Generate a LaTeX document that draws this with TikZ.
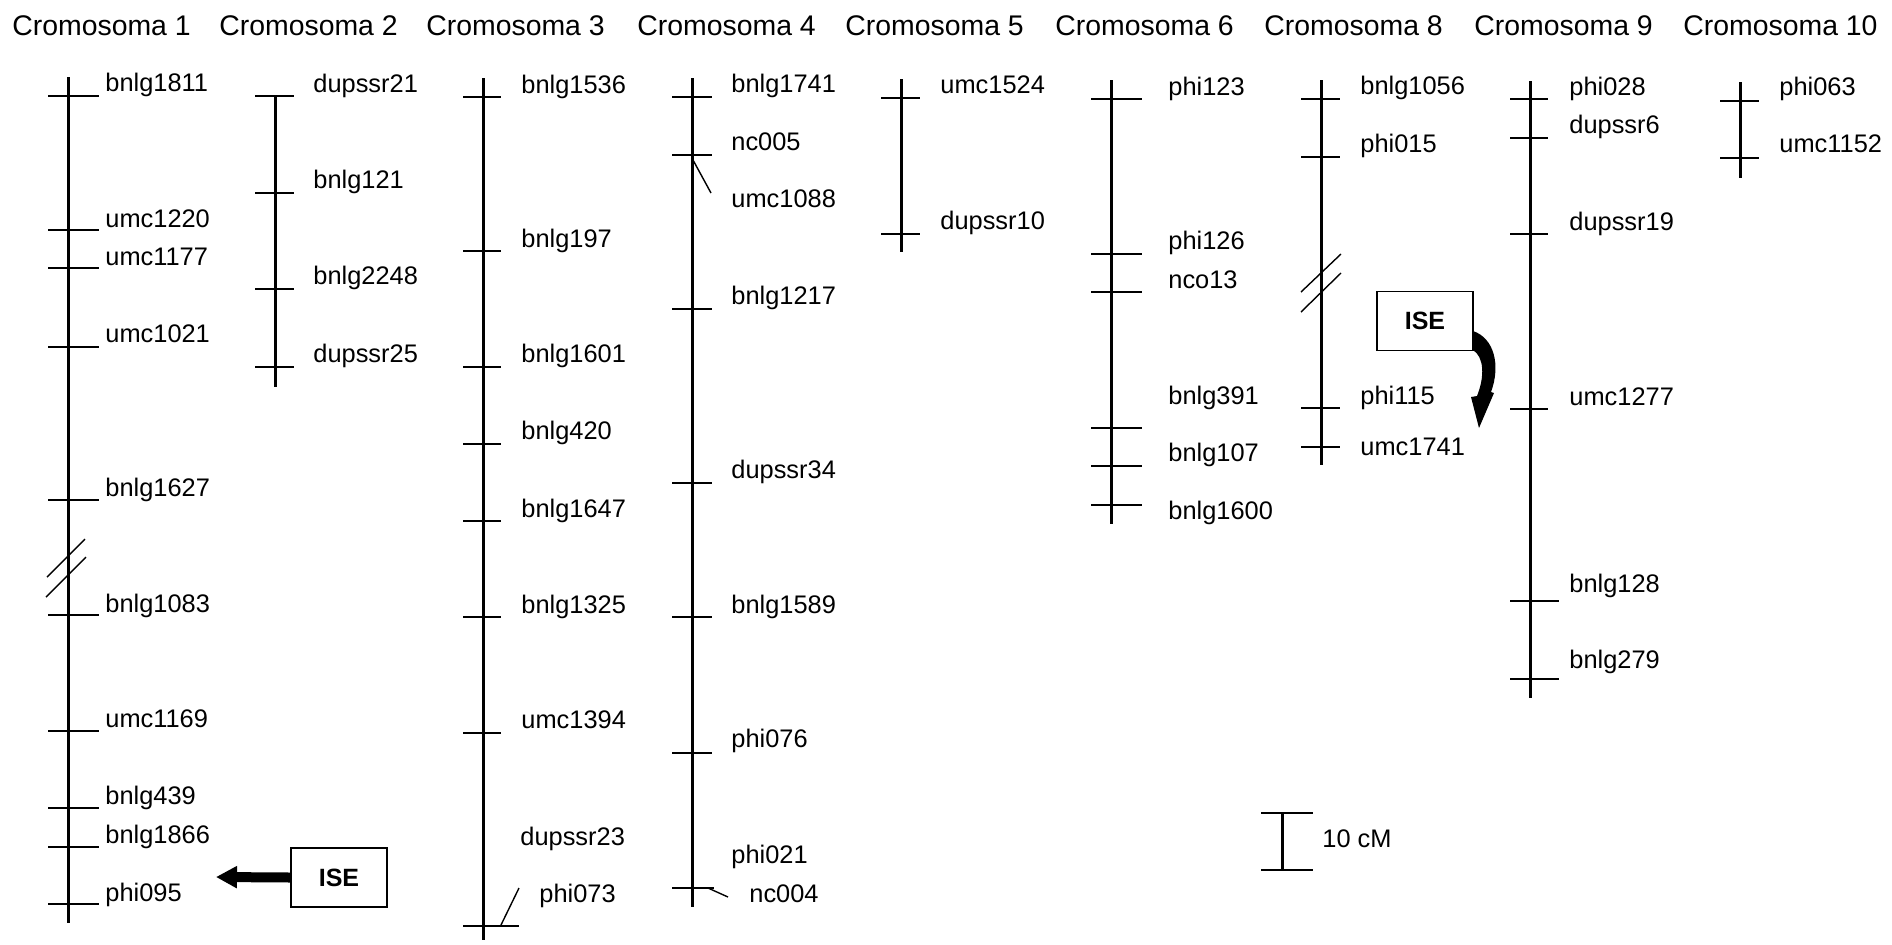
\documentclass[tikz,border=0pt]{standalone}
\usepackage{fontspec}
\setmainfont{Liberation Sans}
\usetikzlibrary{arrows.meta}

% one locus: tick on the chromosome and its name
% #1 node name, #2 chromosome x, #3 tick y, #4 tick reach to the right,
% #5 label x, #6 label baseline y, #7 marker name
\newcommand{\mapLocus}[7]{%
  \draw[tick] (#2-20,#3) -- (#2+#4,#3);
  \node[loc] (#1) at (#5,#6) {#7};}

\begin{document}
\begin{tikzpicture}[x=0.5pt,y=-0.5pt,
  chrom/.style={line width=1.5pt},
  tick/.style={line width=0.9pt},
  brk/.style={line width=0.7pt},
  lead/.style={line width=0.7pt},
  loc/.style={anchor=base west, inner sep=0pt, font=\fontsize{12.7}{15}\selectfont},
  ttl/.style={anchor=base west, inner sep=0pt, font=\fontsize{14.2}{17}\selectfont},
  isebox/.style={draw, line width=0.8pt, minimum width=48pt, minimum height=29.5pt,
    inner sep=0pt, font=\fontsize{12.5}{15}\selectfont\bfseries}]

\fill[white] (0,0) rectangle (1892,944);
\useasboundingbox (0,0) rectangle (1892,944);

% chromosome titles
\node[ttl] (t1) at (12,35) {Cromosoma 1};
\node[ttl] (t2) at (219,35) {Cromosoma 2};
\node[ttl] (t3) at (426,35) {Cromosoma 3};
\node[ttl] (t4) at (637,35) {Cromosoma 4};
\node[ttl] (t5) at (845,35) {Cromosoma 5};
\node[ttl] (t6) at (1055,35) {Cromosoma 6};
\node[ttl] (t8) at (1264,35) {Cromosoma 8};
\node[ttl] (t9) at (1474,35) {Cromosoma 9};
\node[ttl] (t10) at (1683,35) {Cromosoma 10};

% ---------- chromosome 1
\coordinate (c1a) at (68,77); \coordinate (c1b) at (68,923);
\draw[chrom] (c1a) -- (c1b);
\mapLocus{bnlg1811}{68}{96}{31}{105}{91}{bnlg1811}
\mapLocus{umc1220}{68}{230}{31}{105}{227}{umc1220}
\mapLocus{umc1177}{68}{268}{31}{105}{265}{umc1177}
\mapLocus{umc1021}{68}{347}{31}{105}{342}{umc1021}
\mapLocus{bnlg1627}{68}{500}{31}{105}{496}{bnlg1627}
\mapLocus{bnlg1083}{68}{615}{31}{105}{612}{bnlg1083}
\mapLocus{umc1169}{68}{731}{31}{105}{727}{umc1169}
\mapLocus{bnlg439}{68}{808}{31}{105}{804}{bnlg439}
\mapLocus{bnlg1866}{68}{847}{31}{105}{843}{bnlg1866}
\mapLocus{phi095}{68}{904}{31}{105}{901}{phi095}
\draw[brk] (47,577) -- (85,539);
\draw[brk] (46,597) -- (86,557);
\node[isebox] (ise1) at (339,877.5) {ISE};
\coordinate (ise1tip) at (216,877);
\draw[line width=5pt, -{Triangle[length=10.5pt,width=10.5pt]}] (ise1.west) -- (ise1tip);

% ---------- chromosome 2
\coordinate (c2a) at (275,96); \coordinate (c2b) at (275,387);
\draw[chrom] (c2a) -- (c2b);
\mapLocus{dupssr21}{275}{96}{19}{313}{92}{dupssr21}
\mapLocus{bnlg121}{275}{193}{19}{313}{188}{bnlg121}
\mapLocus{bnlg2248}{275}{289}{19}{313}{284}{bnlg2248}
\mapLocus{dupssr25}{275}{367}{19}{313}{362}{dupssr25}

% ---------- chromosome 3
\coordinate (c3a) at (483,78); \coordinate (c3b) at (483,940);
\draw[chrom] (c3a) -- (c3b);
\mapLocus{bnlg1536}{483}{97}{18}{521}{93}{bnlg1536}
\mapLocus{bnlg197}{483}{251}{18}{521}{247}{bnlg197}
\mapLocus{bnlg1601}{483}{367}{18}{521}{362}{bnlg1601}
\mapLocus{bnlg420}{483}{444}{18}{521}{439}{bnlg420}
\mapLocus{bnlg1647}{483}{521}{18}{521}{517}{bnlg1647}
\mapLocus{bnlg1325}{483}{617}{18}{521}{613}{bnlg1325}
\mapLocus{umc1394}{483}{733}{18}{521}{728}{umc1394}
\node[loc] (dupssr23) at (520,845) {dupssr23};
\mapLocus{phi073}{483}{926}{36}{539}{902}{phi073}
\coordinate (phi073a) at (501,925); \coordinate (phi073b) at (519,888);
\draw[lead] (phi073a) -- (phi073b);

% ---------- chromosome 4
\coordinate (c4a) at (692,78); \coordinate (c4b) at (692,907);
\draw[chrom] (c4a) -- (c4b);
\mapLocus{bnlg1741}{692}{97}{20}{731}{92}{bnlg1741}
\mapLocus{nc005}{692}{155}{20}{731}{150}{nc005}
\node[loc] (umc1088) at (731,207) {umc1088};
\coordinate (umc1088a) at (693,160); \coordinate (umc1088b) at (711,193);
\draw[lead] (umc1088a) -- (umc1088b);
\mapLocus{bnlg1217}{692}{309}{20}{731}{304}{bnlg1217}
\mapLocus{dupssr34}{692}{483}{20}{731}{478}{dupssr34}
\mapLocus{bnlg1589}{692}{617}{20}{731}{613}{bnlg1589}
\mapLocus{phi076}{692}{753}{20}{731}{747}{phi076}
\node[loc] (phi021) at (731,863) {phi021};
\mapLocus{nc004}{692}{888}{22}{749}{902}{nc004}
\coordinate (nc004a) at (708,888); \coordinate (nc004b) at (728,897);
\draw[lead] (nc004a) -- (nc004b);

% ---------- chromosome 5
\coordinate (c5a) at (901,79); \coordinate (c5b) at (901,252);
\draw[chrom] (c5a) -- (c5b);
\mapLocus{umc1524}{901}{98}{19}{940}{93}{umc1524}
\mapLocus{dupssr10}{901}{234}{19}{940}{229}{dupssr10}

% ---------- chromosome 6
\coordinate (c6a) at (1111,80); \coordinate (c6b) at (1111,524);
\draw[chrom] (c6a) -- (c6b);
\mapLocus{phi123}{1111}{99}{31}{1168}{95}{phi123}
\mapLocus{phi126}{1111}{254}{31}{1168}{249}{phi126}
\mapLocus{nco13}{1111}{292}{31}{1168}{288}{nco13}
\mapLocus{bnlg391}{1111}{428}{31}{1168}{404}{bnlg391}
\mapLocus{bnlg107}{1111}{466}{31}{1168}{461}{bnlg107}
\mapLocus{bnlg1600}{1111}{505}{31}{1168}{519}{bnlg1600}

% ---------- chromosome 8
\coordinate (c8a) at (1321,80); \coordinate (c8b) at (1321,465);
\draw[chrom] (c8a) -- (c8b);
\mapLocus{bnlg1056}{1321}{99}{19}{1360}{94}{bnlg1056}
\mapLocus{phi015}{1321}{157}{19}{1360}{152}{phi015}
\mapLocus{phi115}{1321}{408}{19}{1360}{404}{phi115}
\mapLocus{umc1741}{1321}{447}{19}{1360}{455}{umc1741}
\draw[brk] (1301,292) -- (1341,254);
\draw[brk] (1301,312) -- (1341,273);
\node[isebox] (ise8) at (1425,321) {ISE};
% curved arrow leaving the box towards phi115
\fill (1473,331) .. controls (1494,338) and (1501,365) .. (1491,392)
  -- (1494,393) -- (1479,428) -- (1471,397) -- (1477,396)
  .. controls (1485,376) and (1484,357) .. (1473,350) -- cycle;

% ---------- chromosome 9
\coordinate (c9a) at (1530,81); \coordinate (c9b) at (1530,698);
\draw[chrom] (c9a) -- (c9b);
\mapLocus{phi028}{1530}{99}{18}{1569}{95}{phi028}
\mapLocus{dupssr6}{1530}{138}{18}{1569}{133}{dupssr6}
\mapLocus{dupssr19}{1530}{234}{18}{1569}{230}{dupssr19}
\mapLocus{umc1277}{1530}{409}{18}{1569}{405}{umc1277}
\mapLocus{bnlg128}{1530}{601}{29}{1569}{592}{bnlg128}
\mapLocus{bnlg279}{1530}{679}{29}{1569}{668}{bnlg279}

% ---------- chromosome 10
\coordinate (c10a) at (1740,82); \coordinate (c10b) at (1740,178);
\draw[chrom] (c10a) -- (c10b);
\mapLocus{phi063}{1740}{101}{19}{1779}{95}{phi063}
\mapLocus{umc1152}{1740}{158}{19}{1779}{152}{umc1152}

% ---------- scale bar
\coordinate (sa) at (1282,813); \coordinate (sb) at (1282,870);
\draw[chrom] (sa) -- (sb);
\draw[tick] (1261,813) -- (1313,813);
\draw[tick] (1261,870) -- (1313,870);
\node[loc] (scale) at (1322,847) {10 cM};

\end{tikzpicture}
\end{document}
